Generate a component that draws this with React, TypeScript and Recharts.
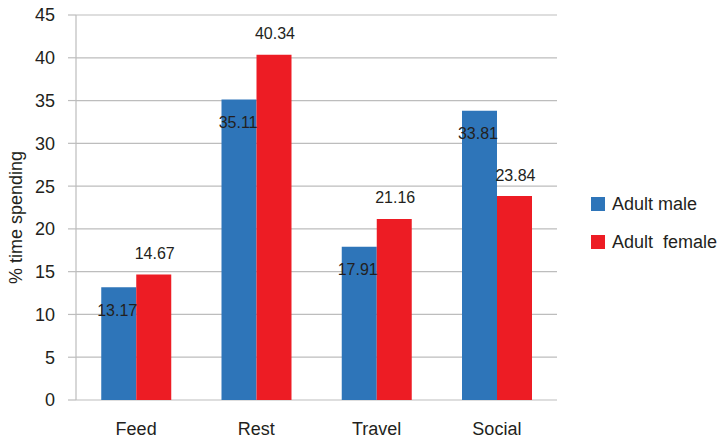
import React from 'react';
import { BarChart, Bar, XAxis, YAxis, CartesianGrid, Legend, LabelList } from 'recharts';

const categories = ['Feed', 'Rest', 'Travel', 'Social'];
const adultMale = [13.17, 35.11, 17.91, 33.81];
const adultFemale = [14.67, 40.34, 21.16, 23.84];
const yTicks = [0, 5, 10, 15, 20, 25, 30, 35, 40, 45];
const edgeTicks = [0, 1, 2, 3, 4];
const seriesOrder = ['male', 'female'];

const data = categories.map((name, i) => ({
  name,
  male: adultMale[i],
  female: adultFemale[i],
}));

const FONT = '"Liberation Sans", Arial, Helvetica, sans-serif';
const TEXT = '#231f20';
const GRID = '#bdbdbd';
const BLUE = '#2e75b9';
const RED = '#ed1c24';

const MaleLabel = (props: any) => {
  const { x, y, width, value } = props;
  return (
    <text x={x + width + 1} y={y + 23} textAnchor="end" dominantBaseline="central"
      fontFamily={FONT} fontSize={16} fill={TEXT}>
      {value.toFixed(2)}
    </text>
  );
};

const FemaleLabel = (props: any) => {
  const { x, y, width, value } = props;
  return (
    <text x={x + width / 2 + 1} y={y - 21} textAnchor="middle" dominantBaseline="central"
      fontFamily={FONT} fontSize={16} fill={TEXT}>
      {value.toFixed(2)}
    </text>
  );
};

const YTitle = (props: any) => {
  const { viewBox } = props;
  const cx = viewBox.x + 16;
  const cy = viewBox.y + viewBox.height / 2 + 10;
  return (
    <text x={cx} y={cy} transform={`rotate(-90 ${cx} ${cy})`} textAnchor="middle"
      dominantBaseline="central" fontFamily={FONT} fontSize={18} fill={TEXT}>
      % time spending
    </text>
  );
};

const LegendBox = (props: any) => {
  const items = [...(props.payload || [])].sort(
    (a: any, b: any) => seriesOrder.indexOf(a.dataKey) - seriesOrder.indexOf(b.dataKey)
  );
  return (
    <div style={{ fontFamily: FONT, fontSize: 18, color: TEXT }}>
      {items.map((p: any) => (
        <div key={p.dataKey} style={{ display: 'flex', alignItems: 'center', height: 38 }}>
          <span style={{ width: 14, height: 14, background: p.color, marginRight: 7, display: 'inline-block' }} />
          <span style={{ whiteSpace: 'pre' }}>{p.value}</span>
        </div>
      ))}
    </div>
  );
};

export default function App() {
  return (
    <div style={{ position: 'absolute', left: 0, top: 0, background: '#fff' }}>
      <BarChart width={717} height={438} data={data}
        margin={{ top: 15, right: 34, bottom: 0, left: 0 }}
        barCategoryGap="21%" barGap={0}>
        <CartesianGrid horizontal vertical={false} stroke={GRID} strokeWidth={1.2} />
        <XAxis xAxisId="edge" type="number" domain={[0, 4]} ticks={edgeTicks}
          tick={false} tickSize={7} height={0} stroke={GRID} strokeWidth={1.2} />
        <XAxis dataKey="name" height={38} tickLine={false} axisLine={false}
          tickSize={8} tickMargin={14}
          tick={{ fontFamily: FONT, fontSize: 18, fill: TEXT }} />
        <YAxis domain={[0, 45]} ticks={yTicks} width={76} tickSize={8} tickMargin={13}
          stroke={GRID} strokeWidth={1.2} interval={0}
          tick={{ fontFamily: FONT, fontSize: 18, fill: TEXT }}
          label={<YTitle />} />
        <Legend layout="vertical" align="right" verticalAlign="top"
          wrapperStyle={{ left: 591, top: 185, width: 126 }} content={<LegendBox />} />
        <Bar dataKey="male" name="Adult male" fill={BLUE} isAnimationActive={false}>
          <LabelList dataKey="male" content={<MaleLabel />} />
        </Bar>
        <Bar dataKey="female" name="Adult  female" fill={RED} isAnimationActive={false}>
          <LabelList dataKey="female" content={<FemaleLabel />} />
        </Bar>
      </BarChart>
    </div>
  );
}
